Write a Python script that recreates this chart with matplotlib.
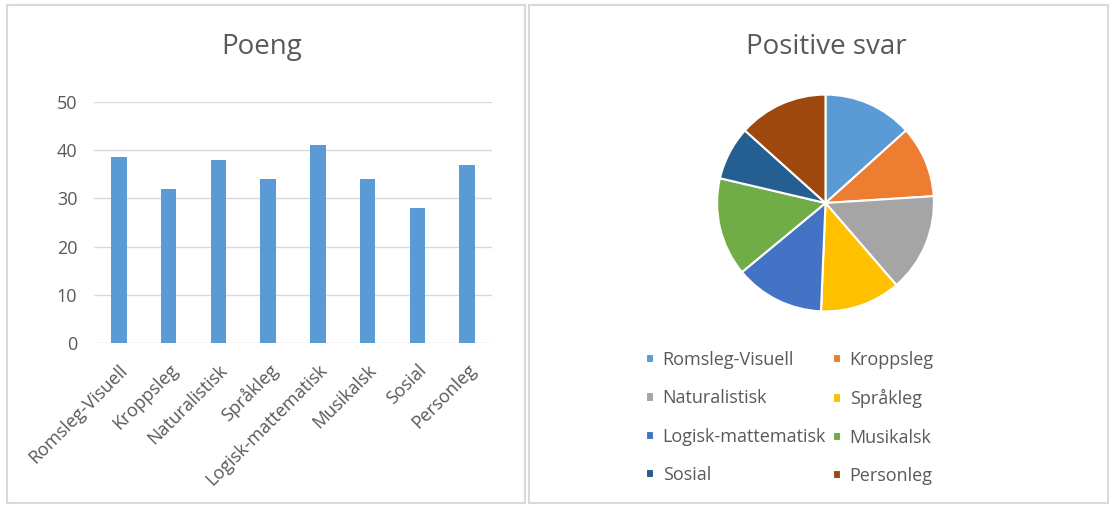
import matplotlib.pyplot as plt
from matplotlib.patches import Rectangle

categories = ['Romsleg-Visuell', 'Kroppsleg', 'Naturalistisk', 'Språkleg',
              'Logisk-mattematisk', 'Musikalsk', 'Sosial', 'Personleg']
poeng = [38.5, 32, 38, 34, 41, 34, 28, 37]
positive_svar = [10, 8, 11, 9, 10, 11, 6, 10]
yticks = [0, 10, 20, 30, 40, 50]

pie_colors = ['#5B9BD5', '#ED7D31', '#A5A5A5', '#FFC000',
              '#4472C4', '#70AD47', '#255E91', '#9E480E']
text_col = '#595959'
grid_col = '#D9D9D9'

plt.rcParams['font.family'] = ['Open Sans', 'DejaVu Sans']

W, H = 1109, 505
fig = plt.figure(figsize=(W / 100, H / 100), dpi=100)

def fx(px):
    return px / W

def fy(py):
    return 1 - py / H

# panel frames
for x0, x1 in [(7, 525), (529, 1108)]:
    fig.add_artist(Rectangle((fx(x0), fy(503)), fx(x1 - x0), (503 - 5) / H,
                             transform=fig.transFigure, fill=False,
                             edgecolor=grid_col, lw=1.5))

# bar chart
ax = fig.add_axes([fx(94), fy(343), fx(492 - 94), (343 - 102) / H])
x = range(len(categories))
ax.bar(x, poeng, width=0.31, color='#5B9BD5', zorder=3)
ax.set_xlim(-0.5, len(categories) - 0.5)
ax.set_ylim(0, 50)
ax.set_yticks(yticks)
ax.grid(axis='y', color=grid_col, lw=1, zorder=0)
for s in ax.spines.values():
    s.set_visible(False)
ax.tick_params(axis='y', length=0, pad=12, labelsize=13, labelcolor=text_col)
ax.tick_params(axis='x', length=0, pad=13, labelsize=13, labelcolor=text_col)
ax.set_xticks(list(x))
ax.set_xticklabels(categories, rotation=45, ha='right', va='top',
                   rotation_mode='anchor')
fig.text(fx(262), fy(47), 'Poeng', ha='center', va='center',
         fontsize=20, color=text_col)

# pie chart
pax = fig.add_axes([fx(716), fy(312.5), fx(219), 219 / H])
wedges, _ = pax.pie(positive_svar, colors=pie_colors, startangle=90,
                    counterclock=False,
                    wedgeprops=dict(edgecolor='white', linewidth=1.5))
pax.set_xlim(-1.01, 1.01)
pax.set_ylim(-1.01, 1.01)
fig.text(fx(826), fy(47), 'Positive svar', ha='center', va='center',
         fontsize=20, color=text_col)

for col, left in [(0, 646), (1, 833)]:
    idx = list(range(col, len(categories), 2))
    leg = fig.legend([wedges[i] for i in idx], [categories[i] for i in idx],
                     loc='upper left', bbox_to_anchor=(fx(left), fy(351)),
                     frameon=False, fontsize=13, labelcolor=text_col,
                     handlelength=0.42, handleheight=0.42, handletextpad=0.5,
                     labelspacing=1.13, borderpad=0, borderaxespad=0)

fig.savefig('out.png', dpi=100)
